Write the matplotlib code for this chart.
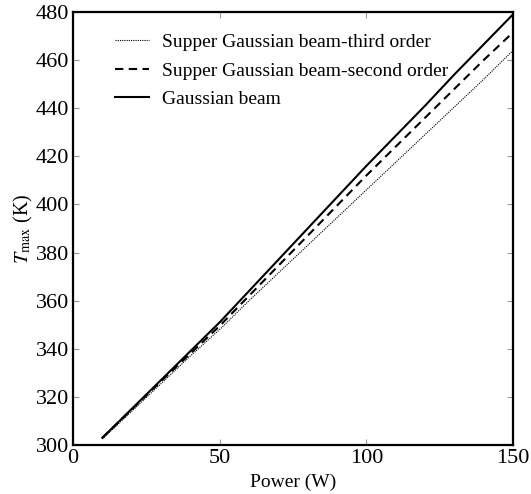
import matplotlib
matplotlib.use("Agg")
import matplotlib.pyplot as plt

plt.rcParams["font.family"] = ["Liberation Serif", "DejaVu Serif"]
plt.rcParams["mathtext.fontset"] = "stix"

# data
power = [10, 20, 30, 40, 50, 60, 70, 80, 90, 100, 110, 120, 130, 140, 150]
t_gauss = [303, 315, 327, 339, 351, 364, 377, 390, 403, 416,
           428.5, 441, 454, 466.5, 479]
t_second = [303, 314.7, 326.5, 338, 349.5, 362, 374.5, 387, 399.5, 412,
            424, 436, 448, 460, 471.5]
t_third = [302.5, 314, 325.5, 337, 348, 360, 371.5, 383, 394.5, 406,
           417.5, 429, 440.5, 452, 464]

xticks = [0, 50, 100, 150]
yticks = [300, 320, 340, 360, 380, 400, 420, 440, 460, 480]

fig = plt.figure(figsize=(5.31, 4.94), dpi=100)
ax = fig.add_axes([0.1375, 0.0992, 0.8285, 0.8765])

ax.plot(power, t_third, color="k", lw=0.8, ls=(0, (1, 1)),
        label="Supper Gaussian beam-third order")
ax.plot(power, t_second, color="k", lw=1.5, ls=(0, (4, 2.6)),
        label="Supper Gaussian beam-second order")
ax.plot(power, t_gauss, color="k", lw=1.5, label="Gaussian beam")

ax.set_xlim(0, 150)
ax.set_ylim(300, 480)
ax.set_xticks(xticks)
ax.set_yticks(yticks)
ax.tick_params(direction="in", length=4, width=0.8, color="0.6",
               top=True, right=True, labelsize=16)
ax.tick_params(axis="x", pad=3)
ax.tick_params(axis="y", pad=3)
for s in ax.spines.values():
    s.set_linewidth(1.6)

ax.set_xlabel("Power (W)", fontsize=14, labelpad=4)
ax.set_ylabel(r"$T_{\rm max}$ (K)", fontsize=14.5, labelpad=0)

ax.legend(loc="upper left", bbox_to_anchor=(0.0955, 0.95), frameon=False,
          fontsize=14, handlelength=1.75, handletextpad=0.67,
          labelspacing=0.55, borderpad=0, borderaxespad=0)

fig.savefig("out.png", dpi=100)
